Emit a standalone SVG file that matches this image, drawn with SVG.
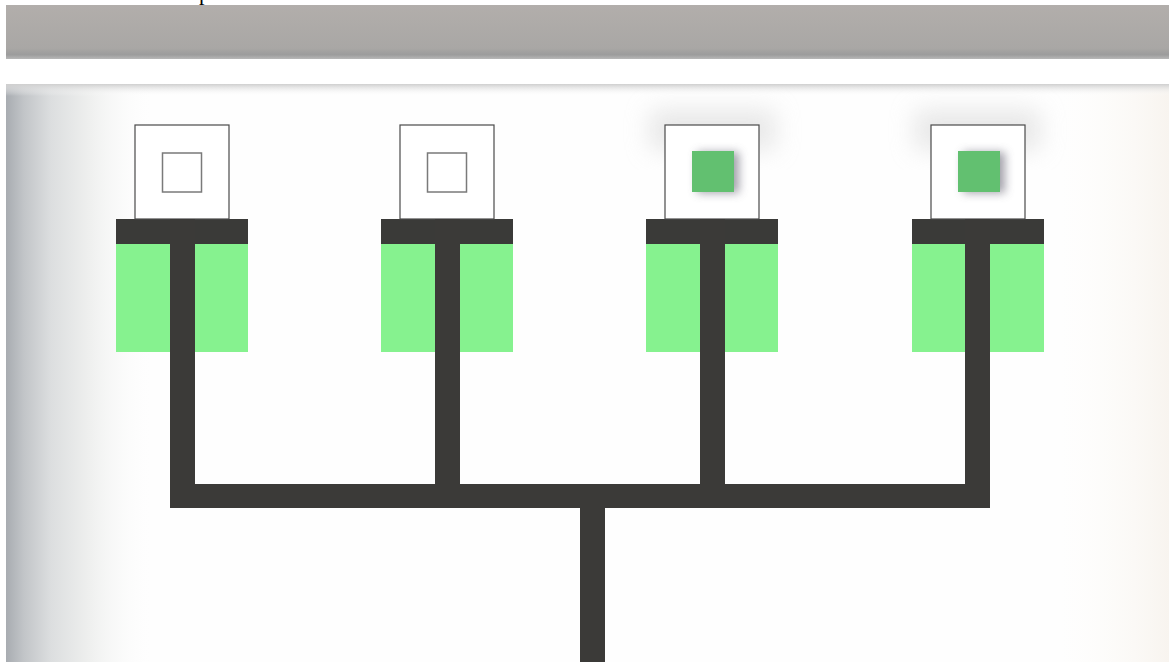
<svg xmlns="http://www.w3.org/2000/svg" width="1169" height="662" viewBox="0 0 1169 662">
<style>
.outer{fill:#ffffff;stroke:#4a4a4a;stroke-width:1.2}
.inner{fill:none;stroke:#7a7a7a;stroke-width:1.5}
.cap{fill:#3a3a38}
.pad{fill:#86f28f}
.fill{fill:#62c070}
.wire{fill:#3b3a38}
.lbl{font-family:"Liberation Serif",serif;font-size:22px;fill:#000}
</style>
<defs>
<linearGradient id="band" x1="0" y1="0" x2="0" y2="1">
<stop offset="0" stop-color="#b2aeab"/>
<stop offset="0.8" stop-color="#a9a7a5"/>
<stop offset="0.92" stop-color="#9c9c9c"/>
<stop offset="1" stop-color="#b8b8b8"/>
</linearGradient>
<linearGradient id="leftShade" x1="0" y1="0" x2="1" y2="0">
<stop offset="0" stop-color="#a8acb1"/>
<stop offset="0.12" stop-color="#c2c5c8"/>
<stop offset="0.3" stop-color="#dcdedf"/>
<stop offset="0.55" stop-color="#eeefee"/>
<stop offset="1" stop-color="#ffffff" stop-opacity="0"/>
</linearGradient>
<linearGradient id="topShade" x1="0" y1="0" x2="0" y2="1">
<stop offset="0" stop-color="#cfcfcf"/>
<stop offset="1" stop-color="#ffffff" stop-opacity="0"/>
</linearGradient>
<linearGradient id="rightShade" x1="0" y1="0" x2="1" y2="0">
<stop offset="0" stop-color="#fdfcf9" stop-opacity="0"/>
<stop offset="1" stop-color="#f8f4ef"/>
</linearGradient>
<filter id="blur" x="-50%" y="-50%" width="200%" height="200%">
<feGaussianBlur stdDeviation="5"/>
</filter>
<filter id="blurBig" x="-50%" y="-50%" width="200%" height="200%">
<feGaussianBlur stdDeviation="12"/>
</filter>
</defs>
<rect width="1169" height="662" fill="#ffffff"/>
<rect x="6" y="5" width="1163" height="54" fill="url(#band)"/>
<rect x="6" y="84" width="1163" height="578" fill="#fefefe"/>
<rect x="1060" y="84" width="109" height="578" fill="url(#rightShade)"/>
<rect x="6" y="84" width="150" height="578" fill="url(#leftShade)"/>
<rect x="6" y="84" width="1163" height="12" fill="url(#topShade)"/>
<text class="lbl" x="199" y="0">p</text>

<g id="connectors">
<rect class="wire" x="170" y="219" width="25" height="289"/>
<rect class="wire" x="435" y="219" width="25" height="289"/>
<rect class="wire" x="700" y="219" width="25" height="289"/>
<rect class="wire" x="965" y="219" width="25" height="289"/>
<rect class="wire" x="170" y="484" width="820" height="24"/>
<rect class="wire" x="580" y="484" width="25" height="178"/>
</g>

<g id="node1">
<rect class="pad" x="116" y="244" width="132" height="108"/>
<rect class="cap" x="116" y="219" width="132" height="25"/>
<rect class="outer" x="135" y="125" width="94" height="94"/>
<rect class="inner" x="162.5" y="153" width="39" height="39"/>
<rect class="wire" x="170" y="219" width="25" height="133"/>
</g>
<g id="node2">
<rect class="pad" x="381" y="244" width="132" height="108"/>
<rect class="cap" x="381" y="219" width="132" height="25"/>
<rect class="outer" x="400" y="125" width="94" height="94"/>
<rect class="inner" x="427.5" y="153" width="39" height="39"/>
<rect class="wire" x="435" y="219" width="25" height="133"/>
</g>
<g id="node3">
<rect x="650" y="110" width="125" height="40" fill="#d8d8d8" filter="url(#blurBig)" opacity="0.6"/>
<rect class="pad" x="646" y="244" width="132" height="108"/>
<rect class="cap" x="646" y="219" width="132" height="25"/>
<rect class="outer" x="665" y="125" width="94" height="94"/>
<rect x="697" y="152" width="42" height="41" fill="#8a8894" filter="url(#blur)" opacity="0.8"/>
<rect class="fill" x="692" y="151" width="42" height="41"/>
<rect class="wire" x="700" y="219" width="25" height="133"/>
</g>
<g id="node4">
<rect x="915" y="110" width="125" height="40" fill="#d8d8d8" filter="url(#blurBig)" opacity="0.6"/>
<rect class="pad" x="912" y="244" width="132" height="108"/>
<rect class="cap" x="912" y="219" width="132" height="25"/>
<rect class="outer" x="931" y="125" width="94" height="94"/>
<rect x="963" y="152" width="42" height="41" fill="#8a8894" filter="url(#blur)" opacity="0.8"/>
<rect class="fill" x="958" y="151" width="42" height="41"/>
<rect class="wire" x="965" y="219" width="25" height="133"/>
</g>
</svg>
